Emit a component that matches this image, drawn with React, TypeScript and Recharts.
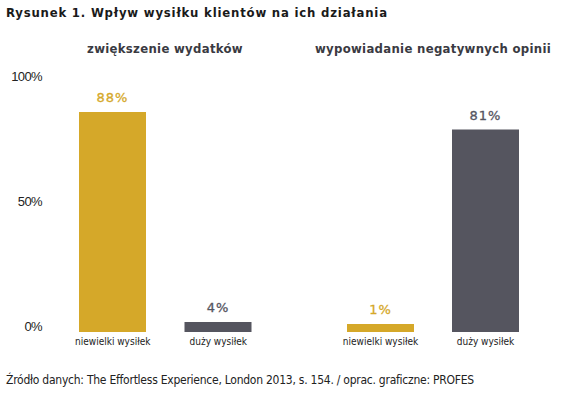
import React from 'react';
import { BarChart, Bar, XAxis, YAxis, Cell, LabelList } from 'recharts';

const categories = ['niewielki wysiłek', 'duży wysiłek'];
const spendingValues = [88, 4];
const negativeValues = [1, 81];
const yTicks = [0, 50, 100];
const panelTitles = ['zwiększenie wydatków', 'wypowiadanie negatywnych opinii'];

const GOLD = '#d5a829';
const DARK = '#55555f';
const barColors = [GOLD, DARK];

const toRows = (values: number[]) =>
  categories.map((name, i) => ({ name, value: values[i] }));

const YTick = (props: any) => {
  const { x, y, payload } = props;
  return (
    <text x={x} y={y - 6} dy="0.355em" textAnchor="end" fontSize={13} fill="#222" fontFamily="Arial, 'Liberation Sans', sans-serif" letterSpacing={-0.6}>
      {payload.value}%
    </text>
  );
};

const ValueLabel = (props: any) => {
  const { x, y, width, value, index } = props;
  return (
    <text x={x + width / 2} y={y - 10} textAnchor="middle" fontSize={13} letterSpacing={1} fill={barColors[index]} stroke={barColors[index]} strokeWidth={0.3} fontFamily="'DejaVu Sans', sans-serif">
      {value}%
    </text>
  );
};

const xTickStyle = { fontSize: 10, fill: '#222', fontFamily: "'DejaVu Sans Condensed', sans-serif" };

interface PanelProps {
  values: number[];
  left: number;
  width: number;
  margin: { top: number; right: number; bottom: number; left: number };
  withAxis?: boolean;
}

const Panel: React.FC<PanelProps> = ({ values, left, width, margin, withAxis }) => (
  <div style={{ position: 'absolute', left, top: 0 }}>
    <BarChart width={width} height={398} data={toRows(values)} margin={margin}>
      <XAxis dataKey="name" axisLine={false} tickLine={false} tickSize={0} tickMargin={6} height={30} tick={xTickStyle} interval={0} />
      <YAxis
        hide={!withAxis}
        domain={[0, 100]}
        ticks={yTicks}
        width={50}
        axisLine={false}
        tickLine={false}
        tickSize={0}
        tickMargin={18}
        tick={<YTick />}
      />
      <Bar dataKey="value" barSize={67} minPointSize={8} isAnimationActive={false}>
        {values.map((_, i) => (
          <Cell key={i} fill={barColors[i]} />
        ))}
        <LabelList dataKey="value" content={<ValueLabel />} />
      </Bar>
    </BarChart>
  </div>
);

const panelTitleStyle: React.CSSProperties = {
  position: 'absolute',
  top: 41,
  width: 300,
  textAlign: 'center',
  fontSize: 13,
  fontWeight: 'bold',
  letterSpacing: 0.3,
  color: '#3a3a42',
  fontFamily: "'DejaVu Sans Condensed', sans-serif",
  whiteSpace: 'nowrap',
};

export default function App() {
  return (
    <div style={{ position: 'absolute', left: 0, top: 0, width: 564, height: 398, background: '#fff', overflow: 'hidden' }}>
      <div style={{ position: 'absolute', left: 6, top: 5, fontSize: 13, fontWeight: 'bold', letterSpacing: 0.8, color: '#1a1a1a', fontFamily: "'DejaVu Sans Condensed', sans-serif", whiteSpace: 'nowrap' }}>
        Rysunek 1. Wpływ wysiłku klientów na ich działania
      </div>
      <div style={{ ...panelTitleStyle, left: 165 - 150 }}>{panelTitles[0]}</div>
      <div style={{ ...panelTitleStyle, left: 433 - 150 }}>{panelTitles[1]}</div>
      <Panel values={spendingValues} left={0} width={290} margin={{ top: 82, right: 19, bottom: 36, left: 10 }} withAxis />
      <Panel values={negativeValues} left={290} width={274} margin={{ top: 82, right: 26, bottom: 36, left: 38 }} />
      <div style={{ position: 'absolute', left: 6, top: 373, fontSize: 12, letterSpacing: -0.25, color: '#222', fontFamily: "'DejaVu Sans Condensed', sans-serif", whiteSpace: 'nowrap' }}>
        Źródło danych: The Effortless Experience, London 2013, s. 154. / oprac. graficzne: PROFES
      </div>
    </div>
  );
}
